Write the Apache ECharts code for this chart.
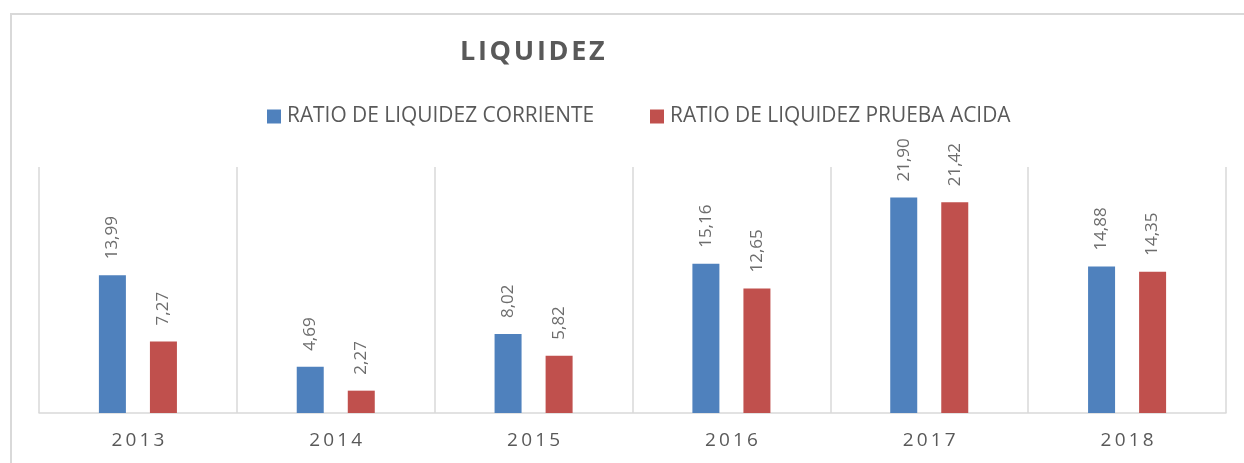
<!DOCTYPE html>
<html>
<head>
<meta charset="utf-8">
<script src="https://cdn.jsdelivr.net/npm/echarts@6/dist/echarts.min.js"></script>
<style>
  html, body { margin: 0; padding: 0; background: #fff; }
  #charts { width: 1244px; height: 463px; }
</style>
</head>
<body>
<div id="charts"></div>
<script>
const years = ["2013", "2014", "2015", "2016", "2017", "2018"];
const corriente = [13.99, 4.69, 8.02, 15.16, 21.9, 14.88];
const pruebaAcida = [7.27, 2.27, 5.82, 12.65, 21.42, 14.35];
const seriesNames = ["RATIO DE LIQUIDEZ CORRIENTE", "RATIO DE LIQUIDEZ PRUEBA ACIDA"];

let chartDom = document.getElementById("charts");
let myChart = echarts.init(chartDom);
let colors = ["#4f81bd", "#c0504d"];
let font = "'Open Sans', sans-serif";
let spaced = function (s, sp) {
  return s.split("").join(sp || "\u2009");
};
let option;

let barLabel = {
  show: true,
  position: "top",
  rotate: 90,
  align: "left",
  verticalAlign: "middle",
  distance: 16,
  color: "#6d6d6d",
  fontFamily: font,
  fontSize: 17,
  formatter: function (p) {
    return p.value.toFixed(2).replace(".", ",");
  },
};

option = {
  animation: false,
  color: colors,
  title: {
    text: spaced("LIQUIDEZ", "\u200a"),
    left: 460,
    top: 39,
    padding: 0,
    textStyle: {
      color: "#595959",
      fontFamily: font,
      fontSize: 27,
      fontWeight: "bold",
    },
  },
  legend: {
    left: 267,
    top: 106,
    padding: 0,
    itemWidth: 14,
    itemHeight: 14,
    itemGap: 56,
    icon: "rect",
    textStyle: {
      color: "#595959",
      fontFamily: font,
      fontSize: 20.9,
      padding: [0, 0, 0, 1],
    },
  },
  graphic: [
    {
      type: "rect",
      shape: { x: 11, y: 14, width: 1400, height: 600 },
      style: { fill: "none", stroke: "#d9d9d9", lineWidth: 2 },
      silent: true,
    },
  ],
  grid: {
    left: 39,
    right: 18,
    top: 167,
    bottom: 50,
  },
  xAxis: {
    type: "category",
    data: years,
    axisLine: { show: true, lineStyle: { color: "#d9d9d9", width: 1.5 } },
    axisTick: { show: false },
    splitLine: { show: true, lineStyle: { color: "#d9d9d9", width: 1.5 } },
    axisLabel: {
      color: "#595959",
      fontFamily: font,
      fontSize: 19,
      margin: 18,
      formatter: function (v) {
        return spaced(v);
      },
    },
  },
  yAxis: {
    type: "value",
    min: 0,
    max: 25,
    show: false,
    splitLine: { show: false },
  },
  series: [
    {
      name: seriesNames[0],
      type: "bar",
      data: corriente,
      barWidth: 27,
      barGap: "89%",
      label: barLabel,
    },
    {
      name: seriesNames[1],
      type: "bar",
      data: pruebaAcida,
      barWidth: 27,
      barGap: "89%",
      label: barLabel,
    },
  ],
};

option && myChart.setOption(option);
</script>
</body>
</html>
